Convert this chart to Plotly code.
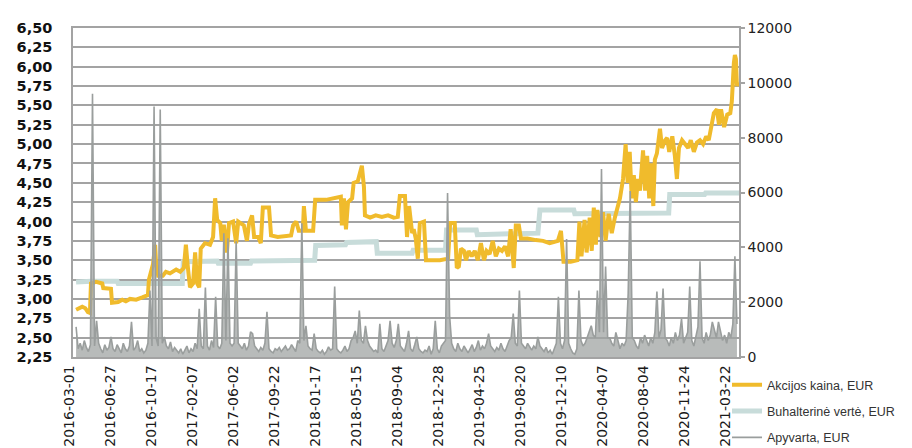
import plotly.graph_objects as go

# ---- tick labels (category axis: trading-day index, label every 80 days)
tick_days = [0, 80, 160, 240, 320, 400, 480, 560, 640, 720, 800, 880, 960, 1040, 1120, 1200, 1280]
tick_dates = ["2016-03-01", "2016-06-27", "2016-10-17", "2017-02-07", "2017-06-02", "2017-09-22",
              "2018-01-17", "2018-05-15", "2018-09-04", "2018-12-28", "2019-04-25", "2019-08-20",
              "2019-12-10", "2020-04-07", "2020-08-04", "2020-11-24", "2021-03-22"]

# ---- share price (EUR)
price_day = [0, 4, 12, 18, 23, 27, 29, 39, 51, 53, 68, 70, 82, 90, 97, 105, 117, 129, 136, 140,
             142, 146, 150, 154, 156, 160, 169, 175, 183, 195, 203, 210, 214, 218, 222, 228, 232, 236, 240, 243,
             251, 261, 267, 271, 275, 281, 284, 288, 294, 298, 306, 312, 316, 327, 333, 337, 343, 347, 355, 360,
             364, 376, 380, 393, 409, 419, 423, 429, 434, 442, 444, 448, 462, 466, 487, 506, 516, 518, 522, 526,
             530, 538, 541, 549, 553, 557, 561, 563, 573, 584, 596, 608, 619, 627, 631, 641, 645, 649, 655, 658,
             662, 666, 670, 678, 682, 695, 709, 725, 729, 738, 742, 746, 750, 756, 760, 765, 771, 777, 783, 789,
             795, 800, 806, 812, 818, 824, 830, 836, 842, 847, 853, 857, 863, 867, 880, 896, 910, 923, 939, 945,
             950, 964, 977, 981, 985, 991, 995, 1001, 1005, 1009, 1013, 1016, 1022, 1027, 1032, 1038, 1044, 1050, 1054, 1060,
             1066, 1071, 1075, 1079, 1083, 1087, 1091, 1095, 1099, 1105, 1109, 1113, 1117, 1121, 1125, 1128, 1132, 1138, 1142, 1148,
             1152, 1156, 1162, 1167, 1171, 1175, 1181, 1187, 1193, 1198, 1204, 1210, 1216, 1222, 1228, 1233, 1237, 1243, 1249, 1253,
             1257, 1263, 1269, 1275, 1278, 1280, 1282, 1284, 1286, 1288, 1290]
price_value = [2.86, 2.87, 2.90, 2.88, 2.83, 2.82, 3.20, 3.22, 3.20, 3.14, 3.13, 2.95, 2.96, 2.99, 2.97, 3.00, 2.99, 3.02, 3.04, 3.05,
               3.25, 3.35, 3.45, 3.70, 3.45, 3.30, 3.30, 3.35, 3.33, 3.38, 3.35, 3.40, 3.70, 3.40, 3.15, 3.20, 3.60, 3.20, 3.15, 3.65,
               3.72, 3.70, 3.80, 4.30, 4.02, 3.98, 3.75, 3.96, 3.60, 3.98, 4.00, 3.72, 4.00, 3.95, 3.75, 3.97, 4.08, 3.80, 3.80, 3.72,
               4.18, 4.18, 3.82, 3.80, 3.82, 3.82, 3.95, 4.00, 3.88, 3.88, 4.20, 3.88, 3.88, 4.28, 4.28, 4.30, 4.32, 3.95, 4.30, 3.90,
               4.25, 4.30, 4.50, 4.52, 4.60, 4.72, 4.45, 4.08, 4.05, 4.08, 4.06, 4.08, 4.05, 4.06, 4.33, 4.33, 3.80, 4.20, 3.85, 3.90,
               3.78, 3.52, 3.98, 4.00, 3.50, 3.50, 3.50, 3.52, 3.98, 3.98, 3.40, 3.42, 3.65, 3.62, 3.50, 3.62, 3.55, 3.62, 3.50, 3.72,
               3.50, 3.62, 3.58, 3.75, 3.55, 3.65, 3.62, 3.68, 3.55, 3.90, 3.40, 3.95, 3.95, 3.78, 3.78, 3.76, 3.75, 3.72, 3.75, 3.88,
               3.48, 3.48, 3.50, 4.00, 3.55, 4.02, 3.60, 4.05, 3.62, 4.18, 3.70, 4.15, 3.80, 4.12, 3.75, 4.10, 3.85, 4.05, 4.15, 4.30,
               4.55, 5.00, 4.50, 4.90, 4.30, 4.60, 4.25, 4.55, 4.40, 4.92, 4.40, 4.85, 4.30, 4.75, 4.20, 4.80, 4.88, 5.20, 4.95, 5.05,
               5.08, 4.90, 5.10, 4.85, 4.55, 4.95, 5.05, 5.00, 4.95, 5.05, 4.90, 5.02, 5.05, 5.00, 5.10, 5.05, 5.20, 5.40, 5.45, 5.25,
               5.45, 5.22, 5.38, 5.40, 5.55, 5.90, 6.05, 6.15, 6.10, 5.75, 5.80]

# ---- book value (EUR)
book_day = [0, 30, 80, 82, 207, 209, 275, 277, 340, 342, 465, 467, 525, 527, 585, 587, 655, 657, 720, 722,
            780, 782, 900, 904, 970, 972, 1155, 1157, 1225, 1227, 1292]
book_value = [3.22, 3.23, 3.23, 3.20, 3.20, 3.48, 3.49, 3.46, 3.46, 3.49, 3.50, 3.69, 3.70, 3.73, 3.74, 3.59, 3.59, 3.63, 3.63, 3.89,
              3.89, 3.83, 3.85, 4.15, 4.15, 4.10, 4.11, 4.35, 4.35, 4.37, 4.37]

# ---- turnover (EUR), one reading every 4 trading days
turnover_day = list(range(0, 1292, 4))
turnover_value = [
    1100, 300, 500, 250, 600, 350, 200, 450, 9600, 400, 1320, 500, 300, 150, 450, 250, 350, 730, 300, 200,
    450, 300, 150, 500, 300, 200, 400, 1280, 250, 350, 600, 200, 300, 150, 250, 500, 2420, 400, 9140, 700,
    400, 9030, 500, 730, 400, 300, 550, 200, 350, 250, 150, 300, 100, 250, 400, 150, 300, 200, 500, 300,
    1760, 400, 300, 2530, 400, 250, 600, 350, 2200, 400, 300, 500, 4510, 600, 4330, 500, 400, 500, 4220, 500,
    400, 300, 500, 250, 400, 920, 850, 400, 300, 200, 350, 250, 500, 1650, 300, 200, 150, 300, 250, 350,
    200, 300, 400, 250, 300, 450, 300, 200, 600, 500, 4880, 600, 1140, 400, 300, 250, 850, 300, 200, 150,
    250, 100, 200, 370, 250, 300, 2570, 300, 200, 150, 250, 400, 200, 300, 600, 700, 950, 500, 1690, 600,
    500, 1140, 600, 400, 300, 200, 250, 150, 1210, 300, 200, 400, 600, 1320, 500, 350, 600, 1210, 400, 300,
    200, 500, 950, 300, 200, 450, 730, 300, 200, 150, 250, 200, 400, 100, 300, 1320, 300, 150, 400, 500,
    600, 5980, 1500, 500, 300, 200, 500, 300, 200, 400, 250, 150, 300, 450, 200, 350, 600, 250, 400, 300,
    500, 850, 400, 300, 200, 350, 250, 500, 300, 200, 400, 600, 700, 1580, 500, 400, 2420, 500, 400, 300,
    500, 350, 250, 400, 300, 730, 400, 300, 200, 350, 150, 250, 100, 300, 500, 2200, 500, 300, 600, 4300,
    500, 300, 150, 100, 300, 2420, 600, 400, 500, 700, 900, 1140, 800, 700, 2420, 900, 6860, 900, 3300, 700,
    700, 500, 400, 900, 600, 300, 500, 400, 600, 2310, 6050, 700, 600, 400, 300, 700, 500, 800, 600, 400,
    700, 500, 900, 2390, 700, 1000, 2500, 700, 600, 400, 700, 500, 900, 600, 800, 1390, 500, 700, 900, 2570,
    600, 400, 800, 1100, 3490, 700, 500, 900, 600, 800, 1280, 1000, 700, 1280, 900, 600, 800, 500, 900, 700,
    1200, 3670, 1200]

GRID = "#a3a3a3"
TURN = "#9a9e9d"
fig = go.Figure()

fig.add_trace(go.Scatter(
    x=book_day, y=book_value, name="Buhalterinė vertė, EUR", mode="lines",
    line=dict(color="#c8dcda", width=5), legendrank=2, legendgroup="b",
    yaxis="y"))
fig.add_trace(go.Scatter(
    x=price_day, y=price_value, name="Akcijos kaina, EUR", mode="lines",
    line=dict(color="#f0bb2c", width=4), legendrank=1, legendgroup="a",
    yaxis="y"))
fig.add_trace(go.Scatter(
    x=turnover_day, y=turnover_value, name="Apyvarta, EUR", mode="lines",
    line=dict(color=TURN, width=1.6), fill="tozeroy", fillcolor="rgba(160,164,163,0.75)",
    showlegend=False, legendgroup="c", yaxis="y2"))
# legend entry for turnover drawn as a plain line (as in the original)
fig.add_trace(go.Scatter(
    x=[None], y=[None], name="Apyvarta, EUR", mode="lines",
    line=dict(color=TURN, width=1.8), legendrank=3, legendgroup="c", yaxis="y2"))

fig.update_layout(
    width=912, height=448,
    margin=dict(l=65, r=181, t=20, b=99, autoexpand=False),
    paper_bgcolor="white", plot_bgcolor="white",
    separators=", ",
    showlegend=True,
    legend=dict(x=0.982, y=-0.04, xanchor="left", yanchor="top",
                font=dict(family="Liberation Sans", size=12.5, color="#333333"),
                tracegroupgap=7, bgcolor="rgba(0,0,0,0)"),
    xaxis=dict(range=[-6, 1292], tickmode="array", tickvals=tick_days, ticktext=tick_dates,
               tickangle=-90, showgrid=False, zeroline=False,
               showline=True, linecolor=GRID, linewidth=1.5, mirror=True,
               ticks="", ticklabelstandoff=1, ticklabelshift=-7,
               tickfont=dict(family="DejaVu Sans", size=14, color="#1a1a1a")),
    yaxis=dict(range=[2.25, 6.5], tick0=2.25, dtick=0.25, tickformat=".2f",
               showgrid=True, gridcolor=GRID, gridwidth=1.5, zeroline=False,
               showline=True, linecolor=GRID, linewidth=1.5, ticks="",
               ticklabelstandoff=16,
               tickfont=dict(family="DejaVu Sans", size=14.5, color="#111111", weight="bold")),
    yaxis2=dict(range=[0, 12000], dtick=2000, tickformat="d", overlaying="y", side="right",
                showgrid=False, zeroline=False, showline=True, linecolor=GRID, linewidth=1.5,
                ticks="outside", ticklen=4, tickcolor=GRID, tickwidth=1.5, ticklabelstandoff=0,
                tickfont=dict(family="DejaVu Sans", size=14, color="#222222")),
)

fig.write_html("out.html")
